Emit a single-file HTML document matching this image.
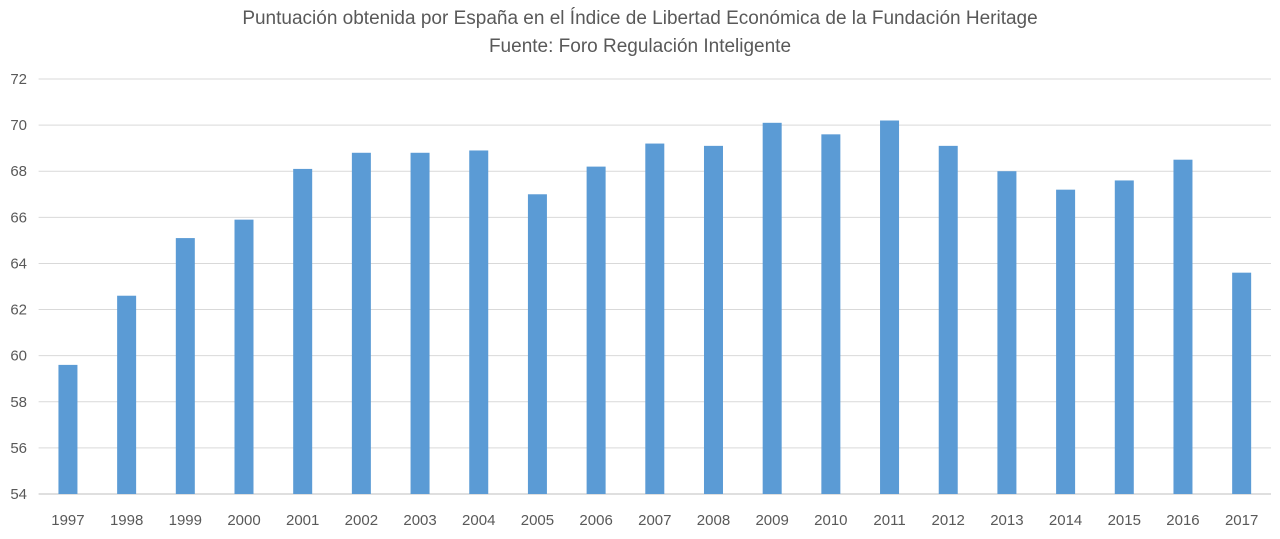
<!DOCTYPE html>
<html><head><meta charset="utf-8"><style>
html,body{margin:0;padding:0;background:#fff;}
body{width:1280px;height:534px;overflow:hidden;font-family:"Liberation Sans",sans-serif;}
</style></head><body>
<svg id="chart" width="1280" height="534" xmlns="http://www.w3.org/2000/svg">
<text x="640" y="24" text-anchor="middle" font-family="Liberation Sans, sans-serif" font-size="19" fill="#595959">Puntuación obtenida por España en el Índice de Libertad Económica de la Fundación Heritage</text>
<text x="640" y="52" text-anchor="middle" font-family="Liberation Sans, sans-serif" font-size="19" fill="#595959">Fuente: Foro Regulación Inteligente</text>
<g id="grid"></g>
<g id="bars"></g>
<g id="yticks"></g>
<g id="xticks"></g>
</svg>
<script>
const categories = ["1997","1998","1999","2000","2001","2002","2003","2004","2005","2006","2007","2008","2009","2010","2011","2012","2013","2014","2015","2016","2017"];
const values = [59.6,62.6,65.1,65.9,68.1,68.8,68.8,68.9,67.0,68.2,69.2,69.1,70.1,69.6,70.2,69.1,68.0,67.2,67.6,68.5,63.6];
const yTicks = [54,56,58,60,62,64,66,68,70,72];

const NS="http://www.w3.org/2000/svg";
const plotLeft=38.6, plotRight=1271, plotTop=79, plotBottom=494, yMin=54, yMax=72;
const step=(plotRight-plotLeft)/categories.length;
const barW=19;
function yScale(v){return plotBottom-(v-yMin)/(yMax-yMin)*(plotBottom-plotTop);}
function xc(i){return plotLeft+step*(i+0.5);}
function mk(tag,attrs,parent){const e=document.createElementNS(NS,tag);for(const k in attrs)e.setAttribute(k,attrs[k]);parent.appendChild(e);return e;}
const grid=document.getElementById('grid'),bars=document.getElementById('bars'),yt=document.getElementById('yticks'),xt=document.getElementById('xticks');
yTicks.forEach(t=>{
  const l=mk('line',{x1:plotLeft,x2:plotRight,y1:yScale(t),y2:yScale(t),stroke:t===yMin?'#bfbfbf':'#d9d9d9','stroke-width':1},grid);
  
  
  const tx=mk('text',{x:27,y:yScale(t)+5,'text-anchor':'end','font-size':15,fill:'#595959'},yt);
  tx.textContent=t;
  
  
});
categories.forEach((c,i)=>{
  const r=mk('rect',{x:xc(i)-barW/2,y:yScale(values[i]),width:barW,height:plotBottom-yScale(values[i]),fill:'#5b9bd5'},bars);
  
  
  const tx=mk('text',{x:xc(i),y:525,'text-anchor':'middle','font-size':15,fill:'#595959'},xt);
  tx.textContent=c;
  
  
});
</script>
</body></html>
